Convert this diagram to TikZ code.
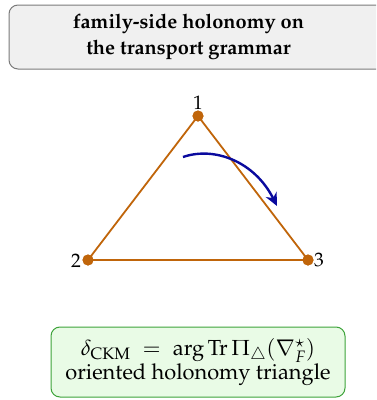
\documentclass[tikz,border=0pt]{standalone}
\usepackage[T1]{fontenc}
\usepackage{mathpazo}
\usetikzlibrary{arrows.meta}
\definecolor{edgeor}{HTML}{C0650A}
\definecolor{arrblue}{HTML}{0A0A9E}
\definecolor{titlefill}{HTML}{F0F0F0}
\definecolor{titledraw}{HTML}{7A7A7A}
\definecolor{gfill}{HTML}{E9FBE6}
\definecolor{gdraw}{HTML}{3DA33A}
\tikzset{
  vtx/.style={circle,fill=edgeor,inner sep=0pt,minimum size=11pt},
  edgeline/.style={draw=edgeor,line width=1.8pt},
  lbl/.style={font=\fontsize{19.5}{22}\selectfont,inner sep=1pt},
  orient/.style={draw=arrblue,line width=2.4pt,-{Stealth[length=13pt,width=12pt]}},
}
\begin{document}
\begin{tikzpicture}[x=1pt,y=-1pt]
\path[use as bounding box] (0,0) rectangle (376,400);
\begin{scope}
\clip (0,0) rectangle (376,400);
\draw[fill=titlefill,draw=titledraw,line width=1pt,rounded corners=9pt] (9,5) rectangle (390,69);
\end{scope}
\node[font=\fontsize{20}{26}\selectfont\bfseries,align=center] (title) at (188.5,37) {family-side holonomy on\\the transport grammar};
\node[vtx] (v1) at (198,116) {};
\node[vtx] (v2) at (88,260) {};
\node[vtx] (v3) at (308,260) {};
\draw[edgeline] (v1.center) -- (v2.center) -- (v3.center) -- cycle;
\node[vtx] at (v1) {};
\node[vtx] at (v2) {};
\node[vtx] at (v3) {};
\node[lbl,anchor=south] (l1) at (198,111) {1};
\node[lbl,anchor=east] (l2) at (82,261) {2};
\node[lbl,anchor=west] (l3) at (313,260) {3};
\coordinate (as) at (183,157);
\coordinate (ae) at (277,206);
\draw[orient] (as) .. controls (215,146) and (255,162) .. (ae);
\node[draw=gdraw,fill=gfill,line width=1pt,rounded corners=9pt,minimum width=294pt,minimum height=70pt,align=center,font=\fontsize{21.8}{23.5}\selectfont] (formula) at (198,362)
  {$\delta_{\mathrm{CKM}}\;=\;\arg\mathrm{Tr}\,\Pi_{\triangle}(\nabla_F^{\star})$\\oriented holonomy triangle};
\end{tikzpicture}
\end{document}
